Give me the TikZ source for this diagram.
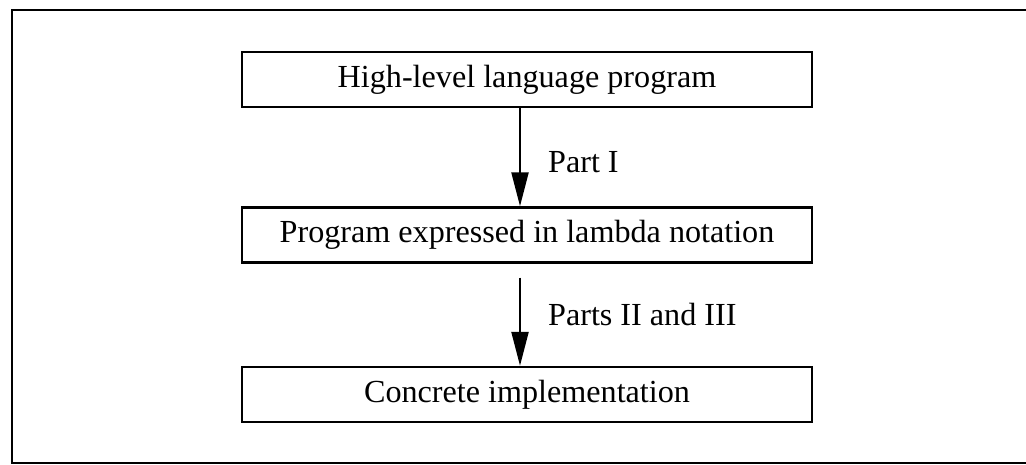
\documentclass[tikz,border=0pt]{standalone}
\usepackage{fontspec}
\setmainfont{Liberation Serif}
\usetikzlibrary{positioning,arrows.meta}

\tikzset{
  stage/.style={draw, line width=1.4pt, minimum width=11.4cm, minimum height=1.1cm, inner sep=0pt, font=\fontsize{18.3}{22}\selectfont},
  pass/.style={-{Triangle[length=0.68cm,width=0.34cm]}, line width=1.3pt},
  passlabel/.style={right=0.54cm, inner sep=0pt, font=\fontsize{18.3}{22}\selectfont}
}

\begin{document}
\begin{tikzpicture}[x=0.02cm, y=-0.02cm]
\useasboundingbox (0,0) rectangle (1026,465);
\draw[line width=1.4pt] (1026,10) -- (12,10) -- (12,463) -- (1026,463);

\node[stage] (hll) at (527,79.5) {High-level language program};
\node[stage] (lambda) at (527,235) {Program expressed in lambda notation};
\node[stage] (impl) at (527,394.5) {Concrete implementation};

\draw[pass] ([xshift=-0.14cm]hll.south) -- node[passlabel, pos=0.55]{Part I} ([xshift=-0.14cm]lambda.north);
\draw[pass] ([xshift=-0.14cm,yshift=-0.28cm]lambda.south) -- node[passlabel, pos=0.42]{Parts II and III} ([xshift=-0.14cm]impl.north);
\end{tikzpicture}
\end{document}
